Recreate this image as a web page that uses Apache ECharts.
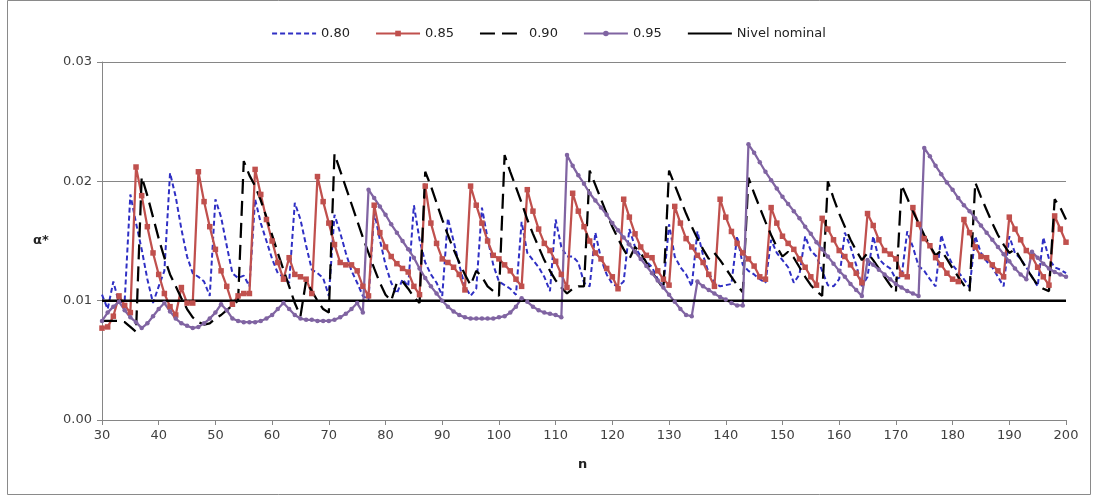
<!DOCTYPE html>
<html>
<head>
<meta charset="utf-8">
<script src="https://cdn.jsdelivr.net/npm/echarts@6.0.0/dist/echarts.min.js"></script>
<style>
  html, body { margin: 0; padding: 0; background: #fff; }
  #chart { width: 1097px; height: 500px; }
</style>
</head>
<body>
<div id="chart"></div>
<script>
// sample sizes n = 30 .. 200
const nFirst = 30, nLast = 200;
const sizes = [];
for (let n = nFirst; n <= nLast; n++) sizes.push(String(n));

const nominalLevel = 0.01;

// alpha*, one value per n
const conf80 = [
  0.0105, 0.0093, 0.0116, 0.0098, 0.0100, 0.0189, 0.0165, 0.0143, 0.0118, 0.0098,
  0.0112, 0.0125, 0.0207, 0.0187, 0.0160, 0.0137, 0.0123, 0.0120, 0.0116, 0.0104,
  0.0185, 0.0170, 0.0146, 0.0123, 0.0119, 0.0121, 0.0112, 0.0185, 0.0165, 0.0150,
  0.0135, 0.0123, 0.0120, 0.0115, 0.0182, 0.0168, 0.0146, 0.0126, 0.0123, 0.0119,
  0.0104, 0.0172, 0.0157, 0.0140, 0.0125, 0.0115, 0.0104, 0.0101, 0.0175, 0.0151,
  0.0130, 0.0115, 0.0106, 0.0118, 0.0112, 0.0180, 0.0151, 0.0132, 0.0122, 0.0115,
  0.0104, 0.0169, 0.0150, 0.0130, 0.0112, 0.0104, 0.0110, 0.0178, 0.0152, 0.0130,
  0.0116, 0.0113, 0.0110, 0.0105, 0.0166, 0.0140, 0.0134, 0.0128, 0.0120, 0.0108,
  0.0168, 0.0145, 0.0137, 0.0137, 0.0132, 0.0115, 0.0112, 0.0157, 0.0135, 0.0122,
  0.0114, 0.0112, 0.0116, 0.0160, 0.0145, 0.0137, 0.0133, 0.0128, 0.0118, 0.0112,
  0.0164, 0.0137, 0.0128, 0.0122, 0.0112, 0.0158, 0.0138, 0.0123, 0.0115, 0.0112,
  0.0113, 0.0114, 0.0154, 0.0130, 0.0125, 0.0122, 0.0118, 0.0115, 0.0151, 0.0140,
  0.0134, 0.0128, 0.0115, 0.0122, 0.0154, 0.0142, 0.0137, 0.0125, 0.0113, 0.0112,
  0.0118, 0.0157, 0.0145, 0.0130, 0.0112, 0.0120, 0.0154, 0.0135, 0.0130, 0.0127,
  0.0118, 0.0120, 0.0158, 0.0145, 0.0129, 0.0125, 0.0118, 0.0112, 0.0155, 0.0140,
  0.0130, 0.0124, 0.0118, 0.0111, 0.0154, 0.0140, 0.0133, 0.0128, 0.0120, 0.0112,
  0.0154, 0.0140, 0.0135, 0.0128, 0.0120, 0.0112, 0.0153, 0.0135, 0.0128, 0.0126,
  0.0123
];
const conf85 = [
  0.0077, 0.0078, 0.0087, 0.0104, 0.0096, 0.0090, 0.0212, 0.0188, 0.0162, 0.0140,
  0.0122, 0.0106, 0.0095, 0.0088, 0.0111, 0.0098, 0.0098, 0.0208, 0.0183, 0.0162,
  0.0143, 0.0125, 0.0112, 0.0097, 0.0104, 0.0106, 0.0106, 0.0210, 0.0189, 0.0168,
  0.0150, 0.0132, 0.0118, 0.0136, 0.0122, 0.0120, 0.0118, 0.0106, 0.0204, 0.0183,
  0.0165, 0.0147, 0.0132, 0.0130, 0.0130, 0.0125, 0.0112, 0.0104, 0.0180, 0.0157,
  0.0145, 0.0137, 0.0131, 0.0127, 0.0124, 0.0112, 0.0105, 0.0196, 0.0165, 0.0148,
  0.0135, 0.0132, 0.0128, 0.0122, 0.0109, 0.0196, 0.0180, 0.0165, 0.0150, 0.0138,
  0.0135, 0.0130, 0.0125, 0.0118, 0.0112, 0.0193, 0.0175, 0.0160, 0.0148, 0.0142,
  0.0133, 0.0122, 0.0111, 0.0190, 0.0175, 0.0162, 0.0150, 0.0140, 0.0135, 0.0127,
  0.0120, 0.0110, 0.0185, 0.0170, 0.0156, 0.0145, 0.0138, 0.0136, 0.0125, 0.0118,
  0.0113, 0.0179, 0.0165, 0.0152, 0.0145, 0.0138, 0.0132, 0.0122, 0.0112, 0.0185,
  0.0170, 0.0158, 0.0148, 0.0140, 0.0135, 0.0129, 0.0120, 0.0118, 0.0178, 0.0165,
  0.0154, 0.0148, 0.0143, 0.0135, 0.0128, 0.0120, 0.0113, 0.0169, 0.0160, 0.0151,
  0.0142, 0.0137, 0.0130, 0.0123, 0.0115, 0.0173, 0.0163, 0.0151, 0.0142, 0.0139,
  0.0135, 0.0122, 0.0120, 0.0178, 0.0164, 0.0152, 0.0146, 0.0136, 0.0130, 0.0123,
  0.0118, 0.0116, 0.0168, 0.0157, 0.0145, 0.0137, 0.0136, 0.0130, 0.0125, 0.0120,
  0.0170, 0.0160, 0.0151, 0.0142, 0.0137, 0.0128, 0.0120, 0.0113, 0.0171, 0.0160,
  0.0149
];
const conf90 = [
  0.0083, 0.0083, 0.0083, 0.0083, 0.0082, 0.0078, 0.0074, 0.0204, 0.0188, 0.0170,
  0.0152, 0.0136, 0.0122, 0.0112, 0.0102, 0.0093, 0.0086, 0.0082, 0.0080, 0.0081,
  0.0085, 0.0088, 0.0092, 0.0096, 0.0100, 0.0217, 0.0205, 0.0196, 0.0184, 0.0170,
  0.0155, 0.0140, 0.0126, 0.0112, 0.0098, 0.0087, 0.0117, 0.0108, 0.0100, 0.0093,
  0.0090, 0.0223, 0.0209, 0.0195, 0.0181, 0.0167, 0.0153, 0.0140, 0.0127, 0.0115,
  0.0105, 0.0100, 0.0115, 0.0116, 0.0110, 0.0103, 0.0098, 0.0208, 0.0196, 0.0182,
  0.0168, 0.0155, 0.0143, 0.0132, 0.0122, 0.0113, 0.0125, 0.0120, 0.0112, 0.0108,
  0.0104, 0.0222, 0.0208, 0.0195, 0.0182, 0.0168, 0.0156, 0.0145, 0.0134, 0.0125,
  0.0117, 0.0111, 0.0106, 0.0110, 0.0112, 0.0112, 0.0209, 0.0197, 0.0185, 0.0173,
  0.0162, 0.0152, 0.0143, 0.0135, 0.0145, 0.0140, 0.0132, 0.0124, 0.0117, 0.0110,
  0.0209, 0.0197, 0.0185, 0.0173, 0.0162, 0.0152, 0.0143, 0.0135, 0.0140, 0.0134,
  0.0127, 0.0120, 0.0113, 0.0107, 0.0203, 0.0190, 0.0178, 0.0166, 0.0155, 0.0145,
  0.0137, 0.0141, 0.0136, 0.0128, 0.0120, 0.0113, 0.0108, 0.0104, 0.0200, 0.0186,
  0.0173, 0.0162, 0.0151, 0.0142, 0.0134, 0.0140, 0.0134, 0.0127, 0.0120, 0.0113,
  0.0107, 0.0197, 0.0186, 0.0175, 0.0165, 0.0155, 0.0146, 0.0138, 0.0142, 0.0135,
  0.0127, 0.0120, 0.0113, 0.0108, 0.0199, 0.0187, 0.0176, 0.0165, 0.0155, 0.0147,
  0.0140, 0.0143, 0.0135, 0.0127, 0.0120, 0.0113, 0.0110, 0.0108, 0.0185, 0.0178,
  0.0168
];
const conf95 = [
  0.0083, 0.0090, 0.0095, 0.0099, 0.0092, 0.0086, 0.0082, 0.0077, 0.0081, 0.0087,
  0.0093, 0.0098, 0.0091, 0.0085, 0.0081, 0.0079, 0.0077, 0.0078, 0.0081, 0.0085,
  0.0090, 0.0097, 0.0092, 0.0085, 0.0083, 0.0082, 0.0082, 0.0082, 0.0083, 0.0085,
  0.0088, 0.0093, 0.0098, 0.0093, 0.0088, 0.0085, 0.0084, 0.0084, 0.0083, 0.0083,
  0.0083, 0.0084, 0.0086, 0.0089, 0.0093, 0.0098, 0.0090, 0.0193, 0.0186, 0.0179,
  0.0172, 0.0164, 0.0157, 0.0150, 0.0143, 0.0136, 0.0127, 0.0119, 0.0112, 0.0106,
  0.0100, 0.0095, 0.0091, 0.0088, 0.0086, 0.0085, 0.0085, 0.0085, 0.0085, 0.0085,
  0.0086, 0.0087, 0.0090, 0.0095, 0.0102, 0.0099, 0.0095, 0.0092, 0.0090, 0.0089,
  0.0088, 0.0086, 0.0222, 0.0213, 0.0205, 0.0198, 0.0190, 0.0184, 0.0178, 0.0172,
  0.0165, 0.0159, 0.0153, 0.0147, 0.0141, 0.0135, 0.0129, 0.0123, 0.0117, 0.0111,
  0.0105, 0.0099, 0.0093, 0.0088, 0.0087, 0.0116, 0.0112, 0.0109, 0.0106, 0.0103,
  0.0101, 0.0098, 0.0096, 0.0096, 0.0231, 0.0224, 0.0216, 0.0208, 0.0201, 0.0194,
  0.0187, 0.0181, 0.0175, 0.0169, 0.0162, 0.0156, 0.0149, 0.0143, 0.0137, 0.0131,
  0.0125, 0.0120, 0.0114, 0.0109, 0.0104, 0.0134, 0.0130, 0.0126, 0.0122, 0.0118,
  0.0114, 0.0111, 0.0108, 0.0106, 0.0104, 0.0228, 0.0221, 0.0213, 0.0206, 0.0199,
  0.0193, 0.0186, 0.0180, 0.0175, 0.0169, 0.0163, 0.0157, 0.0151, 0.0145, 0.0139,
  0.0133, 0.0127, 0.0122, 0.0118, 0.0141, 0.0136, 0.0131, 0.0127, 0.0124, 0.0122,
  0.0120
];

const font = 'DejaVu Sans';
const textColor = '#404040';
const axisGray = '#868686';

const chart = echarts.init(document.getElementById('chart'));

chart.setOption({
  animation: false,
  backgroundColor: '#fff',
  textStyle: { fontFamily: font },
  legend: {
    top: 22,
    left: 'center',
    itemWidth: 44,
    itemHeight: 7,
    itemGap: 25,
    textStyle: { fontFamily: font, fontSize: 13, color: '#222' },
    data: [
      { name: '0.80', itemStyle: { opacity: 0 } },
      { name: '0.85' },
      { name: '0.90', itemStyle: { opacity: 0 } },
      { name: '0.95' },
      { name: 'Nivel nominal', itemStyle: { opacity: 0 } }
    ]
  },
  grid: { left: 102, right: 31, top: 62, bottom: 80, containLabel: false },
  xAxis: {
    type: 'category',
    data: sizes,
    boundaryGap: false,
    axisLine: { lineStyle: { color: axisGray, width: 1 } },
    axisTick: { interval: 9, length: 5, lineStyle: { color: axisGray } },
    axisLabel: { interval: 9, fontSize: 13, color: textColor, margin: 9 },
    splitLine: { show: false }
  },
  yAxis: {
    type: 'value',
    min: 0,
    max: 0.03,
    interval: 0.01,
    axisLine: { show: true, lineStyle: { color: axisGray, width: 1 } },
    axisTick: { show: true, length: 5, lineStyle: { color: axisGray } },
    axisLabel: { fontSize: 13, color: textColor, margin: 10, formatter: v => v.toFixed(2) },
    splitLine: { lineStyle: { color: axisGray, width: 1 } }
  },
  graphic: [
    { type: 'rect', shape: { x: 7.5, y: 0.5, width: 1083, height: 494 },
      style: { fill: 'none', stroke: '#8a8a8a', lineWidth: 1 }, silent: true },
    { type: 'text', left: 33, top: 234,
      style: { text: 'α*', fontFamily: font, fontSize: 13, fontWeight: 'bold', fill: '#222' } },
    { type: 'text', left: 578, top: 458,
      style: { text: 'n', fontFamily: font, fontSize: 13, fontWeight: 'bold', fill: '#222' } }
  ],
  series: [
    {
      name: '0.80', type: 'line', data: conf80,
      symbol: 'none',
      lineStyle: { color: '#2f2fc4', width: 2, type: [5, 3] },
      itemStyle: { color: '#2f2fc4' }
    },
    {
      name: '0.85', type: 'line', data: conf85,
      symbol: 'rect', symbolSize: 5.5, showAllSymbol: true,
      lineStyle: { color: '#c0504d', width: 2.25 },
      itemStyle: { color: '#c0504d' }
    },
    {
      name: '0.90', type: 'line', data: conf90,
      symbol: 'none',
      lineStyle: { color: '#000', width: 2.25, type: [15, 7] },
      itemStyle: { color: '#000' }
    },
    {
      name: '0.95', type: 'line', data: conf95,
      symbol: 'circle', symbolSize: 4.5, showAllSymbol: true,
      lineStyle: { color: '#8064a2', width: 2.25 },
      itemStyle: { color: '#8064a2' }
    },
    {
      name: 'Nivel nominal', type: 'line',
      data: [[sizes[0], nominalLevel], [sizes[sizes.length - 1], nominalLevel]],
      symbol: 'none',
      lineStyle: { color: '#000', width: 2.5 },
      itemStyle: { color: '#000' }
    }
  ]
});
</script>
</body>
</html>
